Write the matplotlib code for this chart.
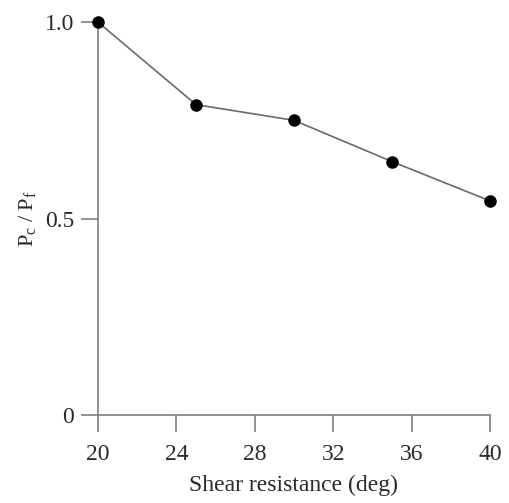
import matplotlib
matplotlib.use("Agg")
import matplotlib.pyplot as plt

plt.rcParams["font.family"] = ["Liberation Serif", "DejaVu Serif"]
plt.rcParams["mathtext.fontset"] = "custom"
plt.rcParams["mathtext.rm"] = "Liberation Serif"
plt.rcParams["mathtext.it"] = "Liberation Serif:italic"

shear_deg = [20, 25, 30, 35, 40]
pressure_ratio = [1.0, 0.79, 0.75, 0.645, 0.545]
x_ticks = [20, 24, 28, 32, 36, 40]
y_ticks = [0, 0.5, 1.0]
y_tick_labels = ["0", "0.5", "1.0"]

axis_gray = "#808080"
text_gray = "#2a2a2a"

fig = plt.figure(figsize=(5.09, 5.03), dpi=100)
ax = fig.add_axes([0.1925, 0.175, 0.7702, 0.781])

ax.plot(shear_deg, pressure_ratio, color="#6a6a6a", linewidth=1.2,
        marker="o", markersize=8, markerfacecolor="black",
        markeredgecolor="black", clip_on=False, zorder=3)

ax.set_xlim(20, 40)
ax.set_ylim(0, 1.0)
ax.set_xticks(x_ticks)
ax.set_yticks(y_ticks)
ax.set_yticklabels(y_tick_labels)

for side in ["top", "right"]:
    ax.spines[side].set_visible(False)
for side in ["left", "bottom"]:
    ax.spines[side].set_color(axis_gray)
    ax.spines[side].set_linewidth(1.2)

ax.tick_params(direction="out", length=12, width=1.2, color=axis_gray,
               labelcolor=text_gray, labelsize=17)
ax.tick_params(axis="x", pad=9)
ax.tick_params(axis="y", pad=5)

ax.set_xlabel("Shear resistance (deg)", fontsize=17, color=text_gray, labelpad=7)
ax.set_ylabel(r"$\mathrm{P_c\ /\ P_f}$", fontsize=16, color=text_gray, labelpad=5)

fig.savefig("out.png", dpi=100)
